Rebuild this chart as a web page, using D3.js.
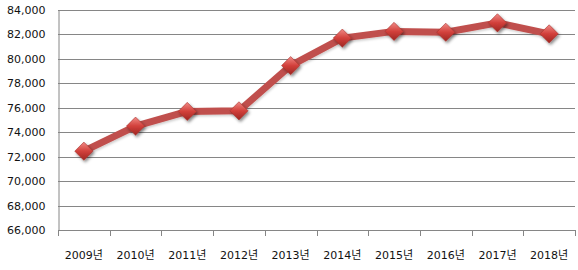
<!DOCTYPE html>
<html>
<head>
<meta charset="utf-8">
<script src="https://cdn.jsdelivr.net/npm/d3@7"></script>
<style>
  body { margin: 0; background: #fff; }
  text { font-family: "DejaVu Sans", "Noto Sans CJK KR", sans-serif; font-size: 11px; fill: #111; }
</style>
</head>
<body>
<div id="chart"></div>
<script>
/* chart data */
var years = ['2009년', '2010년', '2011년', '2012년', '2013년', '2014년', '2015년', '2016년', '2017년', '2018년'];
var values = [72450, 74500, 75700, 75750, 79450, 81700, 82250, 82180, 82950, 82050];
var yTicks = [66000, 68000, 70000, 72000, 74000, 76000, 78000, 80000, 82000, 84000];

var width = 578, height = 270;
var margin = {top: 10, right: 3, bottom: 40, left: 58};

var svg = d3.select('#chart').append('svg')
  .attr('width', width)
  .attr('height', height);

var defs = svg.append('defs');
var grad = defs.append('linearGradient')
  .attr('id', 'mk')
  .attr('x1', 0).attr('y1', 0).attr('x2', 0).attr('y2', 1);
grad.append('stop').attr('offset', '0%').attr('stop-color', '#f08a86');
grad.append('stop').attr('offset', '50%').attr('stop-color', '#d2403b');
grad.append('stop').attr('offset', '100%').attr('stop-color', '#9e2622');

var shadow = defs.append('filter').attr('id', 'sh')
  .attr('x', '-50%').attr('y', '-50%').attr('width', '200%').attr('height', '200%');
shadow.append('feDropShadow')
  .attr('dx', 1.5).attr('dy', 2).attr('stdDeviation', 1.5)
  .attr('flood-color', '#000').attr('flood-opacity', 0.45);

var lineShadow = defs.append('filter').attr('id', 'lsh')
  .attr('x', '-10%').attr('y', '-10%').attr('width', '120%').attr('height', '120%');
lineShadow.append('feDropShadow')
  .attr('dx', 1).attr('dy', 1.5).attr('stdDeviation', 1.2)
  .attr('flood-color', '#000').attr('flood-opacity', 0.2);

var x = d3.scaleBand()
  .domain(years)
  .range([margin.left, width - margin.right]);

var y = d3.scaleLinear()
  .domain([66000, 84000])
  .range([height - margin.bottom, margin.top]);

/* gridlines */
svg.append('g')
  .selectAll('line')
  .data(yTicks)
  .enter().append('line')
  .attr('x1', margin.left)
  .attr('x2', width - margin.right)
  .attr('y1', function(d) { return Math.round(y(d)) + 0.5; })
  .attr('y2', function(d) { return Math.round(y(d)) + 0.5; })
  .attr('stroke', '#868686')
  .attr('stroke-width', 1);

/* y axis */
var yAxis = svg.append('g')
  .attr('transform', 'translate(' + (margin.left + 0.5) + ',0)')
  .call(d3.axisLeft(y).tickValues(yTicks).tickSize(0).tickPadding(13)
    .tickFormat(d3.format(',')));
yAxis.select('.domain').attr('stroke', '#868686');
yAxis.selectAll('text').style('font-size', '11px');

/* x axis */
var xAxis = svg.append('g')
  .attr('transform', 'translate(0,' + (Math.round(y(66000)) + 0.5) + ')')
  .call(d3.axisBottom(x).tickSize(0).tickPadding(21));
xAxis.select('.domain').remove();
xAxis.selectAll('text').style('font-size', '11px');

/* tick marks between categories */
var bounds = years.map(function(d) { return x(d); }).concat([x.range()[1]]);
svg.append('g')
  .selectAll('line')
  .data(bounds)
  .enter().append('line')
  .attr('x1', function(d) { return Math.round(d) + 0.5; })
  .attr('x2', function(d) { return Math.round(d) + 0.5; })
  .attr('y1', Math.round(y(66000)))
  .attr('y2', Math.round(y(66000)) + 6)
  .attr('stroke', '#868686');

var cx = function(d, i) { return x(years[i]) + x.bandwidth() / 2; };

/* line */
var line = d3.line()
  .x(function(d, i) { return cx(d, i); })
  .y(function(d) { return y(d); });

svg.append('path')
  .datum(values)
  .attr('d', line)
  .attr('fill', 'none')
  .attr('stroke', '#c0504d')
  .attr('stroke-width', 7)
  .attr('stroke-linejoin', 'round')
  .attr('filter', 'url(#lsh)');

/* diamond markers */
var sym = d3.symbol().type(d3.symbolDiamond2).size(210);
svg.append('g')
  .selectAll('path')
  .data(values)
  .enter().append('path')
  .attr('d', sym)
  .attr('transform', function(d, i) {
    return 'translate(' + cx(d, i) + ',' + y(d) + ')';
  })
  .attr('fill', 'url(#mk)')
  .attr('stroke', '#a8322e')
  .attr('stroke-width', 0.6)
  .attr('filter', 'url(#sh)');
</script>
</body>
</html>
